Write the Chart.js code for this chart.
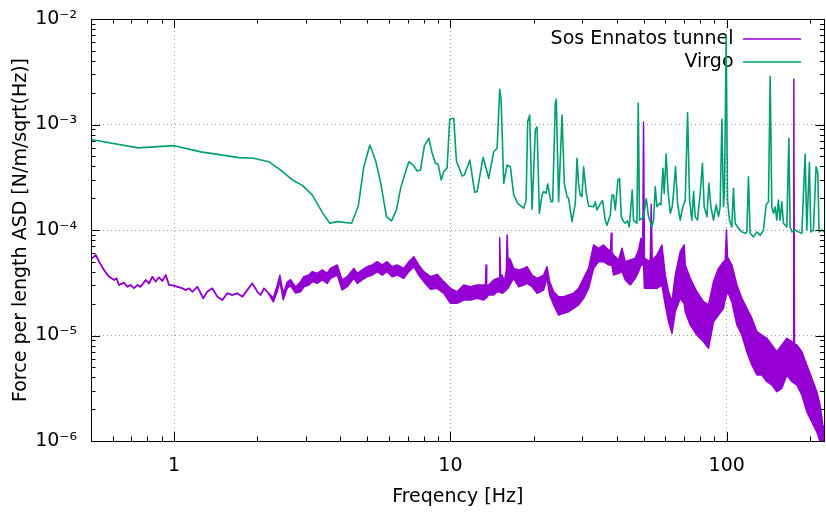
<!DOCTYPE html>
<html>
<head>
<meta charset="utf-8">
<style>
  html, body { margin: 0; padding: 0; background: #ffffff; }
  #c { display: block; }
</style>
<script src="https://cdn.jsdelivr.net/npm/chart.js@4.4.1/dist/chart.umd.min.js"></script>
</head>
<body>
<canvas id="c" width="826" height="513"></canvas>
<script>
// ---------------- data ----------------
const seriesNames = ['Sos Ennatos tunnel', 'Virgo'];

// Virgo ASD curve
const virgoFreq = [0.5, 0.74, 1.0, 1.25, 1.72, 1.94, 2.2, 2.43, 2.68, 2.91, 3.16, 3.44, 3.66, 3.89, 4.39, 4.64, 4.86, 5.11, 5.36, 5.58,
  5.87, 6.12, 6.38, 6.6, 6.88, 7.07, 7.33, 7.58, 7.79, 8.05, 8.35, 8.59, 8.83, 9.03, 9.26, 9.46, 9.73, 9.94, 10.28, 10.51,
  10.71, 11.02, 11.23, 11.65, 11.75, 12.24, 12.49, 13.13, 13.76, 14.35, 14.76, 15.08, 15.26, 15.59, 16.04, 16.48, 16.94, 17.52, 18.17, 18.41,
  18.79, 19.04, 19.36, 19.75, 20.3, 20.59, 20.99, 21.46, 21.75, 22.19, 22.49, 23.13, 23.44, 23.97, 24.17, 24.64, 25.35, 25.84, 26.42, 26.78,
  27.55, 28.32, 28.72, 29.11, 29.52, 29.94, 30.34, 31.04, 31.64, 32.98, 33.45, 33.93, 34.67, 35.55, 36.36, 36.87, 37.9, 38.44, 38.96, 39.5,
  40.4, 40.95, 41.53, 42.34, 42.94, 43.77, 44.4, 45.51, 46.0, 47.33, 47.85, 48.37, 49.35, 50.02, 51.16, 52.15, 53.65, 54.37, 55.14, 55.93,
  57.15, 57.8, 58.8, 59.4, 60.4, 61.3, 62.5, 63.5, 64.2, 65.3, 66.4, 67.9, 69.4, 70.8, 72.2, 73.4, 74.8, 75.9, 76.9, 78.4,
  80.2, 81.7, 82.9, 84.8, 86.2, 87.7, 89.6, 91.6, 93.4, 94.7, 96.1, 97.4, 98.2, 99.6, 100.7, 102.4, 104.4, 105.8, 107.3, 110.3,
  113.5, 116.7, 118.3, 119.9, 121.6, 125, 128.6, 132.2, 135.9, 139, 141.7, 143.7, 145.7, 147.7, 149.8, 151.9, 153.9, 156.1, 158.4, 160.5,
  165.1, 167.9, 169.7, 172.2, 176.9, 181.8, 187.1, 192.3, 195, 199.3, 201.6, 206, 210.7, 213.7, 216.1, 221, 226];
const virgoAsd = [7.2e-4, 6.0e-4, 6.3e-4, 5.5e-4, 4.85e-4, 4.78e-4, 4.44e-4, 3.7e-4, 2.98e-4, 2.65e-4, 2.15e-4, 1.46e-4, 1.16e-4, 1.2e-4, 1.16e-4, 1.69e-4, 3.98e-4, 6.4e-4, 4.54e-4, 2.87e-4,
  1.34e-4, 1.22e-4, 1.55e-4, 2.48e-4, 3.57e-4, 4.44e-4, 4.13e-4, 3.62e-4, 3.7e-4, 6.3e-4, 7.4e-4, 5.33e-4, 4.29e-4, 4.2e-4, 2.98e-4, 3.57e-4, 3.9e-4, 1.12e-3, 1.145e-3, 4.54e-4,
  3.98e-4, 3.25e-4, 3.32e-4, 4.29e-4, 4.61e-4, 2.28e-4, 2.31e-4, 4.89e-4, 3.09e-4, 5.52e-4, 5.95e-4, 2.16e-3, 1.71e-3, 2.77e-4, 4.13e-4, 3.98e-4, 2.15e-4, 1.79e-4, 1.66e-4, 1.61e-4,
  1.92e-4, 1.06e-3, 1.23e-3, 1.57e-4, 9.0e-4, 9.5e-4, 1.44e-4, 2.15e-4, 2.31e-4, 2.23e-4, 2.73e-4, 1.85e-4, 1.85e-4, 1.59e-3, 1.73e-3, 1.85e-4, 1.23e-3, 2.77e-4, 2.07e-4, 2.0e-4,
  1.2e-4, 1.79e-4, 4.78e-4, 2.67e-4, 2.15e-4, 2.07e-4, 3.98e-4, 2.23e-4, 1.69e-4, 1.66e-4, 1.85e-4, 1.55e-4, 1.73e-4, 1.9e-4, 1.24e-4, 1.11e-4, 1.39e-4, 2.15e-4, 2.15e-4, 1.55e-4,
  2.98e-4, 3.09e-4, 1.34e-4, 1.2e-4, 1.16e-4, 1.22e-4, 1.07e-4, 2.39e-4, 1.24e-4, 1.16e-4, 1.59e-3, 1.24e-4, 1.29e-4, 1.34e-4, 1.99e-4, 1.34e-4, 1.07e-4, 1.24e-4, 2.57e-4, 1.66e-4,
  1.79e-4, 1.73e-4, 3.85e-4, 2.23e-4, 5.25e-4, 2.39e-4, 1.44e-4, 1.66e-4, 2.23e-4, 3.98e-4, 1.79e-4, 1.24e-4, 1.66e-4, 1.92e-4, 1.29e-3, 1.92e-4, 1.24e-4, 2.31e-4, 1.34e-4, 1.24e-4,
  2.23e-4, 4.29e-4, 1.66e-4, 1.34e-4, 2.77e-4, 1.66e-4, 1.24e-4, 1.73e-4, 1.34e-4, 1.66e-4, 1.12e-3, 1.66e-4, 2.23e-4, 6.9e-3, 1.92e-4, 1.24e-4, 1.07e-4, 2.48e-4, 1.16e-4, 1.04e-4,
  9.6e-5, 9.3e-5, 9.6e-5, 3.2e-4, 9.3e-5, 8.6e-5, 9.6e-5, 8.9e-5, 1.0e-4, 1.73e-4, 1.85e-4, 2.84e-3, 1.66e-4, 1.44e-4, 1.66e-4, 1.24e-4, 1.92e-4, 1.24e-4, 1.85e-4, 1.16e-4,
  1.07e-4, 7.4e-4, 1.07e-4, 9.6e-5, 1.0e-4, 9.6e-5, 9.3e-5, 5.22e-4, 1.0e-4, 4.35e-4, 9.6e-5, 1.0e-4, 3.98e-4, 3.45e-4, 9.6e-5, 1.0e-4, 9.6e-5];

// Sos Ennatos tunnel ASD: the noisy trace, given as upper and lower edge of its band
const sosFreq = [0.5, 0.52, 0.535, 0.557, 0.581, 0.606, 0.619, 0.631, 0.658, 0.677, 0.696, 0.715, 0.736, 0.756, 0.789, 0.811, 0.834, 0.857, 0.881, 0.906,
  0.932, 0.958, 0.985, 1.027, 1.071, 1.10, 1.131, 1.164, 1.213, 1.275, 1.318, 1.375, 1.433, 1.494, 1.557, 1.623, 1.693, 1.765, 1.84, 1.918,
  2.0, 2.055, 2.113, 2.174, 2.285, 2.362, 2.414, 2.483, 2.567, 2.638, 2.751, 2.868, 2.948, 3.073, 3.162, 3.296, 3.436, 3.582, 3.681, 3.893,
  4.058, 4.231, 4.47, 4.60, 4.795, 4.996, 5.21, 5.43, 5.66, 5.90, 6.155, 6.415, 6.78, 7.07, 7.37, 7.68, 8.01, 8.47, 8.95, 9.46,
  10.0, 10.57, 11.17, 11.81, 12.49, 13.20, 13.39, 13.46, 13.53, 13.76, 14.35, 14.76, 15.01, 15.08, 15.20, 15.38, 15.68, 15.94, 16.04, 16.17,
  16.39, 16.94, 17.66, 18.41, 18.94, 19.75, 20.59, 21.75, 22.37, 22.86, 23.64, 24.64, 25.69, 26.78, 27.92, 29.11, 30.34, 31.64, 32.98, 34.38,
  35.85, 37.37, 37.99, 38.22, 38.44, 38.96, 40.61, 41.78, 42.94, 44.77, 46.67, 47.97, 48.94, 49.7, 50.0, 50.4, 52.87, 53.32, 53.77, 55.93,
  58.30, 59.93, 61.60, 63.39, 65.15, 67.9, 70.2, 70.8, 73.8, 78.0, 82.45, 85.96, 89.6, 93.4, 97.4, 98.8, 99.8, 100.7, 104.4, 108.9,
  113.5, 118.3, 123.3, 128.6, 134.1, 139.8, 145.7, 151.9, 158.4, 165.1, 172.2, 174.0, 175.0, 176.0, 179.4, 187.1, 195.0, 203.3, 212.0, 217.9,
  222.8, 226];
const sosUpper = [5.28e-5, 5.8e-5, 5.0e-5, 4.18e-5, 3.61e-5, 3.36e-5, 3.48e-5, 3.01e-5, 3.16e-5, 2.9e-5, 3.01e-5, 2.8e-5, 3.01e-5, 2.9e-5, 3.36e-5, 3.12e-5, 3.61e-5, 3.24e-5, 3.56e-5, 3.29e-5,
  3.74e-5, 3.01e-5, 3.0e-5, 2.9e-5, 2.8e-5, 2.7e-5, 2.8e-5, 2.6e-5, 2.9e-5, 2.25e-5, 2.6e-5, 2.8e-5, 2.33e-5, 2.17e-5, 2.51e-5, 2.42e-5, 2.51e-5, 2.33e-5, 2.7e-5, 3.12e-5,
  2.6e-5, 2.42e-5, 2.8e-5, 2.6e-5, 2.27e-5, 2.99e-5, 3.72e-5, 2.49e-5, 3.21e-5, 3.38e-5, 2.88e-5, 3.24e-5, 3.61e-5, 3.74e-5, 4.03e-5, 3.89e-5, 4.18e-5, 3.89e-5, 4.33e-5, 4.66e-5,
  3.36e-5, 3.61e-5, 4.33e-5, 3.89e-5, 4.18e-5, 4.49e-5, 4.66e-5, 5.01e-5, 4.66e-5, 5.01e-5, 4.49e-5, 4.66e-5, 4.33e-5, 5.01e-5, 5.58e-5, 4.66e-5, 4.03e-5, 3.61e-5, 3.80e-5, 3.24e-5,
  2.80e-5, 2.60e-5, 3.01e-5, 2.90e-5, 3.01e-5, 3.01e-5, 3.01e-5, 4.66e-5, 2.94e-5, 3.01e-5, 3.36e-5, 3.48e-5, 3.50e-5, 8.45e-5, 3.66e-5, 3.74e-5, 3.24e-5, 4.18e-5, 8.97e-5, 4.97e-5,
  5.39e-5, 4.33e-5, 4.18e-5, 4.33e-5, 4.49e-5, 3.74e-5, 3.48e-5, 3.74e-5, 4.49e-5, 3.24e-5, 2.60e-5, 2.33e-5, 2.33e-5, 2.42e-5, 2.51e-5, 2.80e-5, 3.48e-5, 4.33e-5, 7.21e-5, 6.71e-5,
  7.21e-5, 6.46e-5, 6.46e-5, 9.31e-5, 6.18e-5, 5.79e-5, 5.20e-5, 6.71e-5, 5.01e-5, 5.20e-5, 5.39e-5, 6.46e-5, 8.34e-5, 8.0e-5, 1.049e-3, 5.39e-5, 5.01e-5, 1.75e-4, 5.2e-5, 5.79e-5,
  7.21e-5, 3.74e-5, 2.60e-5, 2.09e-5, 3.74e-5, 6.22e-5, 7.21e-5, 4.66e-5, 3.48e-5, 2.60e-5, 2.09e-5, 1.95e-5, 3.24e-5, 4.33e-5, 5.01e-5, 5.2e-5, 1.0e-4, 5.58e-5, 4.66e-5, 3.01e-5,
  2.25e-5, 1.81e-5, 1.46e-5, 1.09e-5, 1.01e-5, 9.41e-6, 8.13e-6, 7.02e-6, 8.13e-6, 9.41e-6, 8.73e-6, 8.5e-6, 2.68e-3, 8.3e-6, 8.13e-6, 7.02e-6, 5.25e-6, 3.93e-6, 2.93e-6, 2.19e-6,
  1.42e-6, 1.27e-6];
const sosLower = [5.28e-5, 5.8e-5, 5.0e-5, 4.18e-5, 3.61e-5, 3.36e-5, 3.48e-5, 3.01e-5, 3.16e-5, 2.9e-5, 3.01e-5, 2.8e-5, 3.01e-5, 2.9e-5, 3.36e-5, 3.12e-5, 3.61e-5, 3.24e-5, 3.56e-5, 3.29e-5,
  3.74e-5, 3.01e-5, 3.0e-5, 2.9e-5, 2.8e-5, 2.7e-5, 2.8e-5, 2.6e-5, 2.9e-5, 2.25e-5, 2.6e-5, 2.8e-5, 2.33e-5, 2.17e-5, 2.51e-5, 2.42e-5, 2.51e-5, 2.33e-5, 2.7e-5, 3.12e-5,
  2.6e-5, 2.42e-5, 2.8e-5, 2.6e-5, 2.08e-5, 2.62e-5, 3.26e-5, 2.18e-5, 2.82e-5, 2.96e-5, 2.53e-5, 2.60e-5, 2.90e-5, 3.01e-5, 3.24e-5, 3.12e-5, 3.36e-5, 3.12e-5, 3.48e-5, 3.74e-5,
  2.70e-5, 2.90e-5, 3.48e-5, 3.12e-5, 3.36e-5, 3.61e-5, 3.74e-5, 4.03e-5, 3.74e-5, 4.03e-5, 3.61e-5, 3.74e-5, 3.48e-5, 4.03e-5, 4.49e-5, 3.74e-5, 3.24e-5, 2.75e-5, 2.80e-5, 2.51e-5,
  2.02e-5, 2.02e-5, 2.17e-5, 2.17e-5, 2.25e-5, 2.17e-5, 2.25e-5, 2.25e-5, 2.25e-5, 2.42e-5, 2.42e-5, 2.60e-5, 2.58e-5, 2.70e-5, 2.58e-5, 2.51e-5, 2.60e-5, 2.70e-5, 2.80e-5, 2.80e-5,
  3.01e-5, 3.48e-5, 2.90e-5, 3.01e-5, 3.12e-5, 2.90e-5, 2.51e-5, 2.70e-5, 3.48e-5, 2.42e-5, 1.95e-5, 1.56e-5, 1.62e-5, 1.68e-5, 1.81e-5, 1.95e-5, 2.25e-5, 2.80e-5, 4.33e-5, 5.01e-5,
  5.01e-5, 4.66e-5, 4.66e-5, 4.66e-5, 4.56e-5, 3.74e-5, 3.89e-5, 4.03e-5, 3.36e-5, 3.01e-5, 3.48e-5, 4.03e-5, 4.66e-5, 4.66e-5, 4.66e-5, 2.80e-5, 2.80e-5, 2.80e-5, 2.80e-5, 2.80e-5,
  3.01e-5, 1.95e-5, 1.35e-5, 1.05e-5, 1.68e-5, 2.25e-5, 2.0e-5, 1.68e-5, 1.26e-5, 1.01e-5, 8.73e-6, 7.56e-6, 1.35e-5, 1.56e-5, 1.81e-5, 2.2e-5, 2.4e-5, 2.60e-5, 2.09e-5, 1.26e-5,
  1.01e-5, 7.02e-6, 5.25e-6, 4.22e-6, 4.22e-6, 3.65e-6, 3.40e-6, 2.93e-6, 3.16e-6, 4.22e-6, 3.65e-6, 3.6e-6, 3.6e-6, 3.5e-6, 3.40e-6, 2.73e-6, 1.90e-6, 1.52e-6, 1.22e-6, 9.85e-7,
  9.17e-7, 8.22e-7];

// axis ranges and tick labels
const xRange = [0.5, 226];
const yRange = [1e-6, 1e-2];
const xTickValues = [1, 10, 100];
const xTickLabels = ['1', '10', '100'];
const yTickValues = [1e-6, 1e-5, 1e-4, 1e-3, 1e-2];
const yTickLabels = ['10\u207B\u2076', '10\u207B\u2075', '10\u207B\u2074', '10\u207B\u00B3', '10\u207B\u00B2'];
const xTitle = 'Freqency [Hz]';
const yTitle = 'Force per length ASD [N/m/sqrt(Hz)]';

// ---------------- chart ----------------
const PURPLE = '#9400d3';
const GREEN = '#009e73';
const FONT = 'DejaVu Sans';

function pairs(xs, ys) { return xs.map((x, i) => ({ x: x, y: ys[i] })); }
function isDecade(v) { const l = Math.log10(v); return Math.abs(l - Math.round(l)) < 1e-6; }
function isIntegerMantissa(v) {
  const m = v / Math.pow(10, Math.floor(Math.log10(v) + 1e-9));
  return Math.abs(m - Math.round(m)) < 1e-6;
}
function lookupLabel(values, labels, v) {
  for (let i = 0; i < values.length; i++) {
    if (Math.abs(Math.log10(v) - Math.log10(values[i])) < 1e-6) return labels[i];
  }
  return '';
}

const LEGEND_LINE_RIGHT = 801;
const LEGEND_FIRST_CENTER = 39;

const framePlugin = {
  id: 'frame',
  afterLayout(chart) {
    const lg = chart.legend;
    if (!lg) return;
    const pad = lg.options.labels.padding;
    const fs = lg.options.labels.font.size;
    const w = lg.width, h = lg.height;
    lg.left = LEGEND_LINE_RIGHT + pad - w;
    lg.right = lg.left + w;
    lg.top = LEGEND_FIRST_CENTER - fs / 2 - pad;
    lg.bottom = lg.top + h;
  },
  afterDraw(chart) {
    const { ctx, chartArea: a } = chart;
    const xs = chart.scales.x, ys = chart.scales.y;
    ctx.save();
    ctx.strokeStyle = '#000';
    ctx.lineWidth = 1;
    ctx.beginPath();
    xs.ticks.forEach(t => {
      if (!isIntegerMantissa(t.value)) return;
      const p = Math.round(xs.getPixelForValue(t.value)) + 0.5;
      if (p < a.left || p > a.right) return;
      const len = isDecade(t.value) ? 9 : 4.5;
      ctx.moveTo(p, a.bottom); ctx.lineTo(p, a.bottom - len);
      ctx.moveTo(p, a.top); ctx.lineTo(p, a.top + len);
    });
    ys.ticks.forEach(t => {
      if (!isIntegerMantissa(t.value)) return;
      const p = Math.round(ys.getPixelForValue(t.value)) + 0.5;
      if (p < a.top || p > a.bottom + 1) return;
      const len = isDecade(t.value) ? 9 : 4.5;
      ctx.moveTo(a.left, p); ctx.lineTo(a.left + len, p);
      ctx.moveTo(a.right, p); ctx.lineTo(a.right - len, p);
    });
    ctx.stroke();
    ctx.strokeRect(Math.round(a.left) + 0.5, Math.round(a.top) + 0.5,
      Math.round(a.right) - Math.round(a.left) - 1, Math.round(a.bottom) - Math.round(a.top));
    ctx.restore();
  }
};

Chart.defaults.font.family = FONT;
Chart.defaults.font.size = 19;
Chart.defaults.color = '#000';

new Chart(document.getElementById('c'), {
  type: 'line',
  data: {
    datasets: [
      {
        label: seriesNames[0],
        data: pairs(sosFreq, sosUpper),
        borderColor: PURPLE, backgroundColor: PURPLE,
        borderWidth: 1.5, pointRadius: 0, tension: 0,
        borderJoinStyle: 'round', fill: false, clip: 0, order: 1
      },
      {
        label: seriesNames[0] + ' (lower edge)',
        data: pairs(sosFreq, sosLower),
        borderColor: PURPLE, backgroundColor: PURPLE,
        borderWidth: 1.5, pointRadius: 0, tension: 0,
        borderJoinStyle: 'round', fill: '-1', clip: 0, order: 1
      },
      {
        label: seriesNames[1],
        data: pairs(virgoFreq, virgoAsd),
        borderColor: GREEN, backgroundColor: GREEN,
        borderWidth: 1.6, pointRadius: 0, tension: 0,
        borderJoinStyle: 'round', fill: false, clip: 0, order: 0
      }
    ]
  },
  options: {
    responsive: false,
    animation: false,
    devicePixelRatio: 1,
    layout: { padding: { left: 0, right: 1.5, top: 19, bottom: 0 } },
    plugins: {
      tooltip: { enabled: false },
      legend: {
        display: true,
        position: 'chartArea',
        align: 'start',
        rtl: true,
        textDirection: 'ltr',
        labels: {
          boxWidth: 58,
          boxHeight: 0,
          padding: 4,
          color: '#000',
          font: { family: FONT, size: 19 },
          generateLabels: (chart) => chart.data.datasets.map((ds, i) => ({
            text: ds.label, fillStyle: ds.borderColor, strokeStyle: ds.borderColor,
            lineWidth: 1.5, hidden: false, datasetIndex: i, fontColor: '#000',
            lineCap: 'butt', lineDash: [], lineDashOffset: 0, lineJoin: 'miter'
          })).filter(it => it.datasetIndex !== 1)
        }
      }
    },
    scales: {
      x: {
        type: 'logarithmic',
        position: 'bottom',
        min: xRange[0], max: xRange[1],
        afterFit: (s) => { s.height = 72; s.paddingLeft = 0; s.paddingRight = 0; },
        border: { display: false, dash: [1, 3] },
        grid: {
          drawTicks: false,
          lineWidth: 1,
          color: (c) => (c.tick && isDecade(c.tick.value)) ? '#9a9a9a' : 'rgba(0,0,0,0)'
        },
        ticks: {
          autoSkip: false, maxRotation: 0, minRotation: 0, padding: 14,
          color: '#000', font: { family: FONT, size: 19 },
          callback: (v) => lookupLabel(xTickValues, xTickLabels, v)
        },
        title: { display: true, text: xTitle, color: '#000', font: { family: FONT, size: 19 }, padding: { top: 0, bottom: 5 } }
      },
      y: {
        type: 'logarithmic',
        position: 'left',
        min: yRange[0], max: yRange[1],
        afterFit: (s) => { s.width = 91; s.paddingTop = 0; s.paddingBottom = 0; },
        border: { display: false, dash: [1, 3] },
        grid: {
          drawTicks: false,
          lineWidth: 1,
          color: (c) => (c.tick && isDecade(c.tick.value)) ? '#9a9a9a' : 'rgba(0,0,0,0)'
        },
        ticks: {
          autoSkip: false, padding: 14,
          color: '#000', font: { family: FONT, size: 19 },
          callback: (v) => lookupLabel(yTickValues, yTickLabels, v)
        },
        title: { display: true, text: yTitle, color: '#000', font: { family: FONT, size: 19 }, padding: { top: 10, bottom: 0 } }
      }
    }
  },
  plugins: [framePlugin]
});
</script>
</body>
</html>
